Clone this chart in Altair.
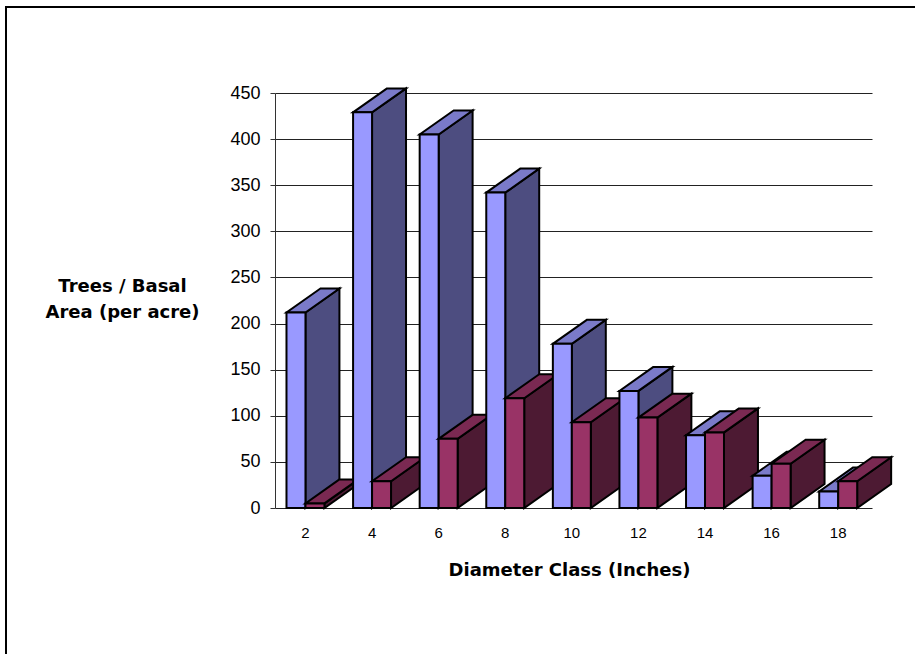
import altair as alt
import pandas as pd

# Stand-table values per diameter class
diameters = [2, 4, 6, 8, 10, 12, 14, 16, 18]
trees = [212, 429, 405, 342, 178, 127, 79, 35, 18]
basal_area = [5, 29, 75, 119, 93, 98, 82, 48, 29]

# Extruded-bar geometry, in data units (inches along x, per-acre units along y)
BAR_W = 0.57
SHIFT = 0.015
DEPTH_X = 1.02
DEPTH_Y = 26

BLUE = ("#9999FF", "#7A7AC9", "#4D4D80")
MAROON = ("#993366", "#7A2952", "#4D1A33")

X = alt.Scale(domain=[1.1, 19.03], nice=False, zero=False)
Y = alt.Scale(domain=[0, 450], nice=False)
FONT = "Liberation Sans"
TITLE_FONT = "DejaVu Sans"

# Both axes are declared once and shared by every layer
X_AXIS = alt.Axis(
    values=diameters, format="d", grid=False, domain=False, ticks=False,
    labelFont=FONT, labelFontSize=15, labelColor="black", labelPadding=17,
    title="Diameter Class (Inches)", titleFont=TITLE_FONT, titleFontSize=18,
    titleFontWeight="bold", titleColor="black", titleX=294, titleY=53,
    labelFlush=False,
)
Y_AXIS = alt.Axis(
    values=list(range(0, 451, 50)), grid=True, gridColor="#222222", gridWidth=1,
    domainColor="#333333", tickColor="#333333", tickSize=5,
    labelFont=FONT, labelFontSize=18, labelColor="black", labelPadding=10,
    title=["Trees / Basal", "Area (per acre)"], titleFont=TITLE_FONT,
    titleFontSize=18, titleFontWeight="bold", titleColor="black",
    titleAngle=0, titleAlign="center", titleBaseline="middle",
    titleLineHeight=26, titleX=-153, titleY=193,
)


def bar_layers(left, value, colors):
    front, top, side = colors
    right = left + BAR_W
    side_df = pd.DataFrame({
        "x": [right, right + DEPTH_X],
        "y": [value, value + DEPTH_Y],
        "y0": [0, DEPTH_Y],
    })
    top_df = pd.DataFrame({
        "y": [value, value + DEPTH_Y],
        "xa": [left, left + DEPTH_X],
        "xb": [right, right + DEPTH_X],
    })
    front_df = pd.DataFrame({"xa": [left], "xb": [right], "y": [value], "y0": [0]})
    stroke = dict(stroke="black", strokeWidth=2, strokeJoin="miter")
    return [
        alt.Chart(side_df).mark_area(color=side, opacity=1, **stroke).encode(
            x=alt.X("x:Q", scale=X, axis=X_AXIS),
            y=alt.Y("y:Q", scale=Y, axis=Y_AXIS),
            y2="y0:Q",
        ),
        alt.Chart(top_df).mark_area(color=top, opacity=1, orient="horizontal", **stroke).encode(
            y=alt.Y("y:Q", scale=Y, axis=Y_AXIS),
            x=alt.X("xa:Q", scale=X, axis=X_AXIS),
            x2="xb:Q",
        ),
        alt.Chart(front_df).mark_rect(color=front, opacity=1, **stroke).encode(
            x=alt.X("xa:Q", scale=X, axis=X_AXIS),
            x2="xb:Q",
            y=alt.Y("y:Q", scale=Y, axis=Y_AXIS),
            y2="y0:Q",
        ),
    ]


# Outer border of the chart area
frame_top = alt.Chart(pd.DataFrame({"k": [0]})).mark_rule(color="black", strokeWidth=2).encode(
    x=alt.value(-270), x2=alt.value(645), y=alt.value(-86)
)
frame_left = alt.Chart(pd.DataFrame({"k": [0]})).mark_rule(color="black", strokeWidth=2).encode(
    x=alt.value(-269), y=alt.value(-87), y2=alt.value(565)
)

layers = [frame_top, frame_left]
for d, t, b in zip(diameters, trees, basal_area):
    layers += bar_layers(d - BAR_W + SHIFT, t, BLUE)
    layers += bar_layers(d + SHIFT, b, MAROON)

chart = alt.layer(*layers).properties(
    width=597,
    height=415,
    autosize=alt.AutoSizeParams(type="none"),
    padding={"left": 275, "top": 93, "right": 43, "bottom": 146},
    background="white",
).configure_view(stroke=None)

chart.save("out.html", embed_options={"renderer": "svg", "actions": False})
